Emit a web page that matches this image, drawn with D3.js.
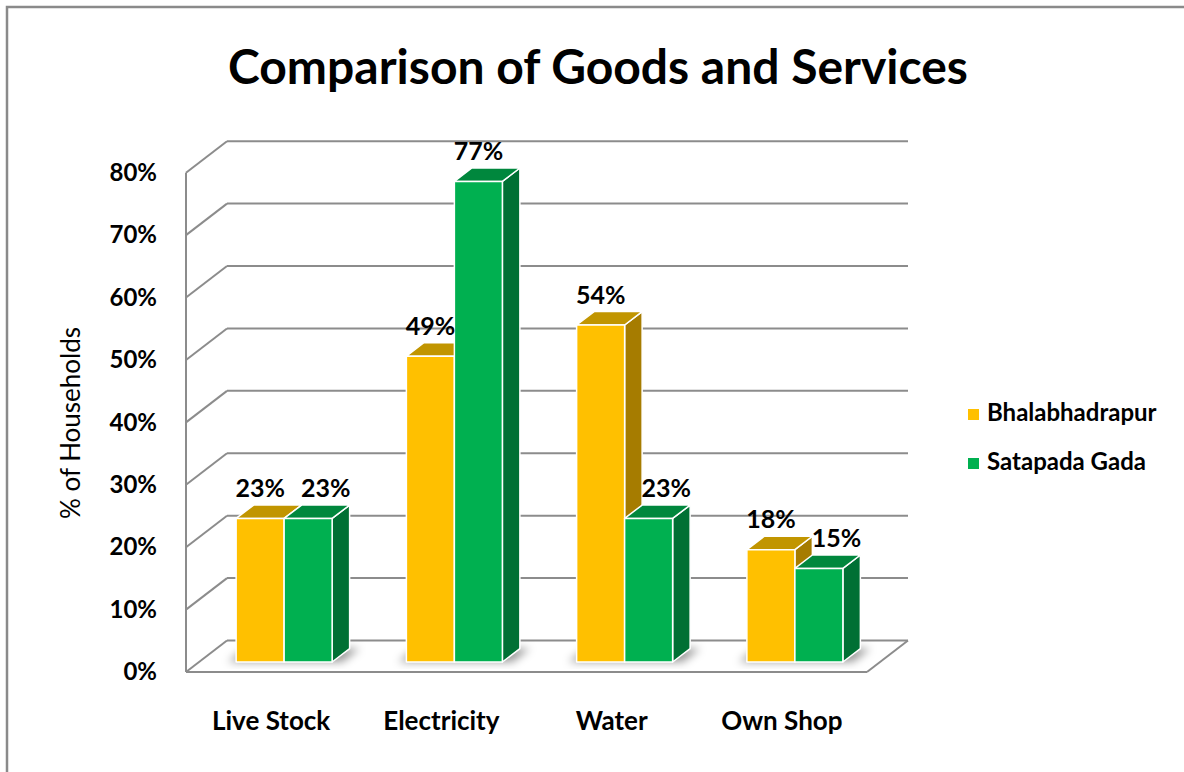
<!DOCTYPE html>
<html>
<head>
<meta charset="utf-8">
<script src="https://cdn.jsdelivr.net/npm/d3@7"></script>
<style>
  html, body { margin: 0; padding: 0; background: #ffffff; }
  svg { display: block; }
  text { font-family: Lato, "Open Sans", "Noto Sans", sans-serif; fill: #000; }
</style>
</head>
<body>
<svg id="chart" width="1184" height="772"></svg>
<script>
// ---- data ----
const categories = ["Live Stock", "Electricity", "Water", "Own Shop"];
const seriesNames = ["Bhalabhadrapur", "Satapada Gada"];
const bhalabhadrapur = [23, 49, 54, 18];
const satapadaGada = [23, 77, 23, 15];
const yTicks = [0, 10, 20, 30, 40, 50, 60, 70, 80];
const yTickLabels = ["0%", "10%", "20%", "30%", "40%", "50%", "60%", "70%", "80%"];
const chartTitle = "Comparison of Goods and Services";
const yAxisTitle = "% of Households";

// ---- face colours per series: front, top, side ----
const palette = {
  "Bhalabhadrapur": { front: "#FFC000", top: "#C19500", side: "#A67C00" },
  "Satapada Gada":  { front: "#00B050", top: "#00873D", side: "#007034" }
};

const svg = d3.select("#chart");
const W = 1184, H = 772;

// outer chart frame
svg.append("rect")
  .attr("x", 7).attr("y", 7)
  .attr("width", W + 20).attr("height", H + 20)
  .attr("fill", "#fff").attr("stroke", "#8a8a8a").attr("stroke-width", 2.5);

// ---- 3D oblique geometry ----
const left = 186, right = 867;          // front plane of the floor
const DX = 41, DY = 31.5;               // wall depth offset
const OX = 13, OY = 10;                 // bars sit a little behind the front edge
const BDX = 17.5, BDY = 13.4;           // bar depth
const groupW = 96;

const x = d3.scaleBand().domain(categories).range([left, right]).padding(0);
const xs = d3.scaleBand().domain(seriesNames).range([0, groupW]).padding(0);
const y = d3.scaleLinear().domain([0, 80]).range([672, 172.7]);

const gridColor = "#8c8c8c";
const grid = svg.append("g").attr("stroke", gridColor).attr("stroke-width", 2).attr("fill", "none");

// back wall gridlines and side wall diagonals
yTicks.forEach(t => {
  grid.append("line")
    .attr("x1", left + DX).attr("y1", y(t) - DY)
    .attr("x2", right + DX).attr("y2", y(t) - DY);
  grid.append("line")
    .attr("x1", left).attr("y1", y(t))
    .attr("x2", left + DX).attr("y2", y(t) - DY);
});
// front vertical axis line
grid.append("line")
  .attr("x1", left).attr("y1", y(0)).attr("x2", left).attr("y2", y(80));
// floor front and right edges
grid.append("line")
  .attr("x1", left).attr("y1", y(0)).attr("x2", right).attr("y2", y(0));
grid.append("line")
  .attr("x1", right).attr("y1", y(0)).attr("x2", right + DX).attr("y2", y(0) - DY);

// ---- bar shadows on the floor ----
const defs = svg.append("defs");
defs.append("filter").attr("id", "soft").attr("x", "-50%").attr("y", "-50%")
  .attr("width", "200%").attr("height", "200%")
  .append("feGaussianBlur").attr("stdDeviation", 4);

const base = y(0) - OY;
const shadowG = svg.append("g").attr("filter", "url(#soft)");
categories.forEach(c => {
  const xl = x(c) + x.bandwidth() / 2 - groupW / 2 + OX;
  const xr = xl + groupW;
  shadowG.append("polygon")
    .attr("points", [
      [xl - 8, base], [xr + 10, base],
      [xr + BDX + 10, base - BDY], [xl + BDX - 8, base - BDY]
    ].map(p => p.join(",")).join(" "))
    .attr("fill", "#000").attr("opacity", 0.4);
});

// ---- bars ----
const rows = categories.map((c, i) => ({
  category: c,
  values: [
    { series: seriesNames[0], value: bhalabhadrapur[i] },
    { series: seriesNames[1], value: satapadaGada[i] }
  ]
}));

const barsG = svg.append("g");
const labelsG = svg.append("g");

rows.forEach(row => {
  row.values.forEach((d, j) => {
    const col = palette[d.series];
    const x0 = x(row.category) + x.bandwidth() / 2 - groupW / 2 + OX + xs(d.series);
    const x1 = x0 + xs.bandwidth();
    const yt = y(d.value) - OY;
    const yb = base;
    const g = barsG.append("g")
      .attr("stroke", "#ffffff").attr("stroke-width", 1.5).attr("stroke-linejoin", "round");
    // side face
    g.append("polygon")
      .attr("points", [[x1, yt], [x1 + BDX, yt - BDY], [x1 + BDX, yb - BDY], [x1, yb]]
        .map(p => p.join(",")).join(" "))
      .attr("fill", col.side);
    // top face
    g.append("polygon")
      .attr("points", [[x0, yt], [x1, yt], [x1 + BDX, yt - BDY], [x0 + BDX, yt - BDY]]
        .map(p => p.join(",")).join(" "))
      .attr("fill", col.top);
    // front face
    g.append("rect")
      .attr("x", x0).attr("y", yt)
      .attr("width", x1 - x0).attr("height", yb - yt)
      .attr("fill", col.front);

    // value label; the second series' label moves right when it would sit over its neighbour
    const other = row.values[0].value;
    const shift = (j === 1 && d.value <= other) ? BDX : 0;
    labelsG.append("text")
      .attr("x", (x0 + x1) / 2 + shift)
      .attr("y", yt - BDY - 8)
      .attr("text-anchor", "middle")
      .attr("font-size", 25)
      .attr("font-weight", 700)
      .text(d.value + "%");
  });
});

// ---- axes ----
const yAxis = d3.axisLeft(y)
  .tickValues(yTicks)
  .tickSize(0)
  .tickPadding(29)
  .tickFormat((d, i) => yTickLabels[i]);
const yAxisG = svg.append("g").attr("transform", `translate(${left},0)`).call(yAxis);
yAxisG.select(".domain").remove();
yAxisG.selectAll("text")
  .attr("font-size", 24).attr("font-weight", 700)
  .attr("font-family", "Lato, sans-serif").attr("fill", "#000");

const xAxis = d3.axisBottom(x).tickSize(0).tickPadding(40);
const xAxisG = svg.append("g").attr("transform", `translate(0,${y(0)})`).call(xAxis);
xAxisG.select(".domain").remove();
xAxisG.selectAll("text")
  .attr("font-size", 26).attr("font-weight", 700)
  .attr("font-family", "Lato, sans-serif").attr("fill", "#000");

// ---- axis title ----
svg.append("text")
  .attr("transform", "translate(80,423) rotate(-90)")
  .attr("text-anchor", "middle")
  .attr("font-size", 26)
  .attr("font-weight", 400)
  .text(yAxisTitle);

// ---- chart title ----
svg.append("text")
  .attr("x", 598).attr("y", 84)
  .attr("text-anchor", "middle")
  .attr("font-size", 48)
  .attr("font-weight", 700)
  .text(chartTitle);

// ---- legend ----
const legend = svg.append("g").attr("transform", "translate(968,409)");
seriesNames.forEach((s, i) => {
  const item = legend.append("g").attr("transform", `translate(0,${i * 49})`);
  item.append("rect").attr("width", 11).attr("height", 11).attr("fill", palette[s].front);
  item.append("text")
    .attr("x", 19).attr("y", 12)
    .attr("font-size", 24).attr("font-weight", 700)
    .text(s);
});
</script>
</body>
</html>
